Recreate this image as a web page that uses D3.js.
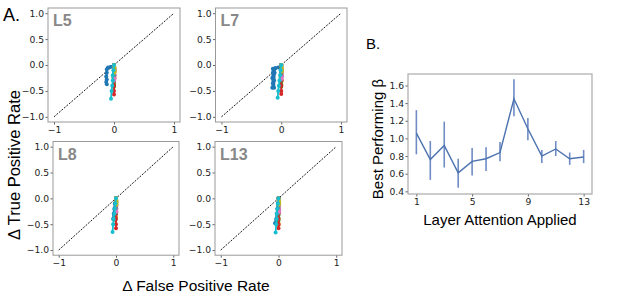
<!DOCTYPE html>
<html><head><meta charset="utf-8">
<script src="https://cdn.jsdelivr.net/npm/d3@7"></script>
<style>body{margin:0;background:#fff}svg{display:block}</style>
</head><body><svg id="c" width="617" height="297"></svg>
<script>
// ---------- DATA ----------
const panelNames = ["L5", "L7", "L8", "L13"];
const rocXTicks = [-1, 0, 1];
const rocYTicks = [-1.0, -0.5, 0.0, 0.5, 1.0];
const diagonal = [[-1, -1], [1, 1]];

// series order: tab10 (blue, orange, green, red, purple, brown, pink, gray, olive, cyan)
const seriesL5 = [
  [[0,0],[-0.06,-0.04],[-0.1,-0.05],[-0.12,-0.08],[-0.12,-0.15],[-0.13,-0.22],[-0.12,-0.28],[-0.13,-0.33],[-0.12,-0.37]],
  [[0,0],[0,-0.06],[0.01,-0.12],[0,-0.18],[0.01,-0.25],[0,-0.3],[0,-0.35]],
  [[0,0],[0,-0.08],[0,-0.16],[-0.01,-0.24],[0,-0.32],[0,-0.38],[0,-0.42]],
  [[0,0],[0,-0.1],[0,-0.2],[0,-0.3],[0,-0.4],[0,-0.5],[0,-0.57]],
  [[0,0],[0.01,-0.08],[0,-0.14],[0.01,-0.2],[0,-0.25]],
  [[0,0],[0,-0.1],[0,-0.2],[0,-0.28],[0,-0.32]],
  [[0,0],[0.01,-0.06],[0.01,-0.13],[0.01,-0.2],[0.01,-0.26],[0,-0.3]],
  [[0,0],[0,-0.07],[0,-0.14],[0,-0.2]],
  [[0,0],[0.01,-0.05],[0.01,-0.1],[0.01,-0.15]],
  [[0,0],[-0.01,-0.1],[-0.02,-0.2],[-0.02,-0.3],[-0.03,-0.4],[-0.04,-0.5],[-0.05,-0.65]]
];
const seriesL7 = [
  [[0,0],[-0.05,-0.05],[-0.1,-0.06],[-0.14,-0.07],[-0.14,-0.15],[-0.15,-0.25],[-0.14,-0.35],[-0.15,-0.44],[-0.12,-0.44],[-0.12,-0.3],[-0.11,-0.15],[-0.11,-0.07]],
  [[0,0],[0,-0.07],[0.01,-0.14],[0,-0.22],[0.01,-0.3],[0,-0.36],[0,-0.4]],
  [[0,0],[0,-0.08],[0,-0.16],[-0.01,-0.24],[0,-0.32],[0,-0.38],[0,-0.42]],
  [[0,0],[0,-0.1],[0,-0.2],[0,-0.3],[0,-0.4],[0,-0.5],[0,-0.56]],
  [[0,0],[0.01,-0.07],[0,-0.14],[0.01,-0.22]],
  [[0,0],[0,-0.1],[0,-0.2],[0,-0.3]],
  [[0,0],[0.01,-0.06],[0.01,-0.13],[0.01,-0.2],[0.01,-0.27]],
  [[0,0],[0,-0.06],[0,-0.12],[0,-0.18]],
  [[0,0],[0.01,-0.04],[0.01,-0.08],[0.01,-0.12]],
  [[0,0],[-0.01,-0.1],[-0.02,-0.2],[-0.03,-0.3],[-0.04,-0.4],[-0.05,-0.5],[-0.06,-0.63]]
];
const seriesL8 = [
  [[0,0],[-0.02,-0.1],[-0.03,-0.2],[-0.04,-0.3],[-0.05,-0.4]],
  [[0,0],[0,-0.08],[0,-0.16],[0,-0.24],[0,-0.3],[0,-0.35]],
  [[0,0],[-0.01,-0.1],[-0.01,-0.2],[-0.01,-0.3],[-0.01,-0.38],[-0.01,-0.42]],
  [[0,0],[0,-0.1],[0,-0.2],[0,-0.3],[0,-0.4],[0,-0.5],[0,-0.58]],
  [[0,0],[0,-0.08],[0,-0.16],[0,-0.22]],
  [[0,0],[0,-0.1],[0,-0.2],[0,-0.3]],
  [[0,0],[0.01,-0.07],[0.01,-0.14],[0.01,-0.2],[0.01,-0.26]],
  [[0,0],[0,-0.06],[0,-0.12],[0,-0.18]],
  [[0,0],[0.01,-0.04],[0.01,-0.08],[0.01,-0.12]],
  [[0,0],[-0.01,-0.1],[-0.02,-0.2],[-0.03,-0.3],[-0.04,-0.4],[-0.05,-0.5],[-0.06,-0.65]]
];
const seriesL13 = [
  [[0,0],[-0.01,-0.1],[-0.02,-0.2],[-0.03,-0.3],[-0.04,-0.4],[-0.06,-0.48]],
  [[0,0],[0,-0.1],[0,-0.2],[0,-0.3],[0,-0.4],[0,-0.48],[0,-0.52]],
  [[0,0],[0,-0.08],[0,-0.16],[-0.01,-0.24],[0,-0.32],[0,-0.38],[0,-0.43]],
  [[0,0],[0,-0.1],[0,-0.2],[0,-0.3],[0,-0.4],[0,-0.5],[0,-0.58]],
  [[0,0],[0.01,-0.08],[0,-0.16],[0.01,-0.24]],
  [[0,0],[0,-0.1],[0,-0.2],[0,-0.3]],
  [[0,0],[0.01,-0.07],[0.01,-0.14],[0.01,-0.21],[0.01,-0.27]],
  [[0,0],[0,-0.06],[0,-0.12],[0,-0.18]],
  [[0,0],[0.01,-0.04],[0.01,-0.08],[0.01,-0.12]],
  [[0,0],[-0.01,-0.1],[-0.02,-0.2],[-0.03,-0.3],[-0.03,-0.4],[-0.04,-0.5],[-0.05,-0.66]]
];
const panelSeries = [seriesL5, seriesL7, seriesL8, seriesL13];

const layers = [1,2,3,4,5,6,7,8,9,10,11,12,13];
const betaMean = [1.06,0.76,0.92,0.61,0.74,0.77,0.84,1.45,1.11,0.80,0.88,0.77,0.79];
const betaLow  = [0.82,0.53,0.67,0.44,0.58,0.63,0.74,1.25,0.98,0.72,0.80,0.70,0.72];
const betaHigh = [1.32,0.97,1.19,0.77,0.89,0.90,0.96,1.67,1.23,0.87,0.97,0.84,0.87];
const betaXTicks = [1, 5, 9, 13];
const betaYTicks = [0.4, 0.6, 0.8, 1.0, 1.2, 1.4, 1.6];

// ---------- DRAW ----------
const svg = d3.select("#c");
const tickFont = "DejaVu Sans, sans-serif";
const labelFont = "Liberation Sans, Arial, sans-serif";
const frameColor = "#999";
const colors = d3.schemeCategory10;

const frames = [
  {x0: 48, x1: 180, y0: 8, y1: 122},
  {x0: 215.5, x1: 347, y0: 8, y1: 122},
  {x0: 53, x1: 179, y0: 141.5, y1: 255.2},
  {x0: 215, x1: 342, y0: 141.5, y1: 255.2}
];

function styleAxis(a) {
  a.select(".domain").remove();
  a.selectAll("line").attr("stroke", "#666");
  a.selectAll("text").attr("font-family", tickFont).attr("font-size", 9.2).attr("fill", "#222");
}

panelNames.forEach((name, i) => {
  const f = frames[i];
  const x = d3.scaleLinear().domain([-1.1, 1.1]).range([f.x0, f.x1]);
  const y = d3.scaleLinear().domain([-1.1, 1.1]).range([f.y1, f.y0]);
  const g = svg.append("g");

  styleAxis(g.append("g").attr("transform", `translate(0,${f.y1})`)
    .call(d3.axisBottom(x).tickValues(rocXTicks).tickFormat(d3.format("d")).tickSize(2.5).tickPadding(2)));
  styleAxis(g.append("g").attr("transform", `translate(${f.x0},0)`)
    .call(d3.axisLeft(y).tickValues(rocYTicks).tickFormat(d3.format(".1f")).tickSize(2.5).tickPadding(1.5)));

  const line = d3.line().x(d => x(d[0])).y(d => y(d[1]));
  g.append("path").datum(diagonal).attr("d", line)
    .attr("stroke", "#000").attr("stroke-width", 0.9).attr("stroke-dasharray", "2,1.3").attr("fill", "none");

  panelSeries[i].forEach((s, k) => {
    g.append("path").datum(s).attr("d", line).attr("fill", "none")
      .attr("stroke", colors[k]).attr("stroke-width", k === 0 ? 2.4 : 1.8);
    g.selectAll(null).data(s).join("circle")
      .attr("cx", d => x(d[0])).attr("cy", d => y(d[1])).attr("r", 2).attr("fill", colors[k]);
  });

  g.append("rect").attr("x", f.x0).attr("y", f.y0).attr("width", f.x1 - f.x0).attr("height", f.y1 - f.y0)
    .attr("fill", "none").attr("stroke", frameColor).attr("stroke-width", 1);

  g.append("text").attr("x", f.x0 + 5).attr("y", f.y0 + 18).text(name)
    .attr("font-family", labelFont).attr("font-weight", "bold").attr("font-size", 16).attr("fill", "#888");
});

svg.append("text").attr("x", 3).attr("y", 21).text("A.")
  .attr("font-family", labelFont).attr("font-size", 18).attr("fill", "#000");
svg.append("text").attr("transform", "translate(20,165) rotate(-90)").attr("text-anchor", "middle")
  .text("Δ True Positive Rate").attr("font-family", labelFont).attr("font-size", 16.5).attr("fill", "#000");
svg.append("text").attr("x", 196).attr("y", 291).attr("text-anchor", "middle")
  .text("Δ False Positive Rate").attr("font-family", labelFont).attr("font-size", 15.5).attr("fill", "#000");

// ---------- Panel B ----------
const bf = {x0: 408, x1: 592, y0: 74, y1: 194};
const bx = d3.scaleLinear().domain([0.4, 13.6]).range([bf.x0, bf.x1]);
const by = d3.scaleLinear().domain([0.37, 1.73]).range([bf.y1, bf.y0]);
const gb = svg.append("g");
styleAxis(gb.append("g").attr("transform", `translate(0,${bf.y1})`)
  .call(d3.axisBottom(bx).tickValues(betaXTicks).tickFormat(d3.format("d")).tickSize(2.5).tickPadding(2)));
styleAxis(gb.append("g").attr("transform", `translate(${bf.x0},0)`)
  .call(d3.axisLeft(by).tickValues(betaYTicks).tickFormat(d3.format(".1f")).tickSize(2.5).tickPadding(1.5)));
const blue = "#4c72b0";
gb.selectAll(null).data(layers).join("line")
  .attr("x1", d => bx(d)).attr("x2", d => bx(d))
  .attr("y1", (d, i) => by(betaLow[i])).attr("y2", (d, i) => by(betaHigh[i]))
  .attr("stroke", "#6f8cc4").attr("stroke-width", 1.6);
gb.append("path").datum(layers)
  .attr("d", d3.line().x(d => bx(d)).y((d, i) => by(betaMean[i])))
  .attr("fill", "none").attr("stroke", blue).attr("stroke-width", 1.4);
gb.append("rect").attr("x", bf.x0).attr("y", bf.y0).attr("width", bf.x1 - bf.x0).attr("height", bf.y1 - bf.y0)
  .attr("fill", "none").attr("stroke", frameColor).attr("stroke-width", 1);

svg.append("text").attr("x", 366).attr("y", 49).text("B.")
  .attr("font-family", labelFont).attr("font-size", 15).attr("fill", "#000");
svg.append("text").attr("transform", "translate(383,139) rotate(-90)").attr("text-anchor", "middle")
  .text("Best Performing β").attr("font-family", labelFont).attr("font-size", 15).attr("fill", "#000");
svg.append("text").attr("x", 500).attr("y", 225).attr("text-anchor", "middle")
  .text("Layer Attention Applied").attr("font-family", labelFont).attr("font-size", 15).attr("fill", "#000");
</script></body></html>
